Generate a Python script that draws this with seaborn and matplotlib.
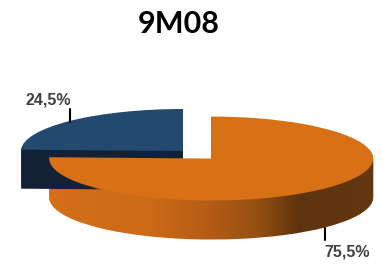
import numpy as np
import seaborn as sns
import matplotlib.pyplot as plt
from matplotlib.colors import LinearSegmentedColormap

sns.set_style("white")

# data
labels = ["24,5%", "75,5%"]
shares = [24.5, 75.5]
top_colors = ["#24496f", "#d87016"]
side_colors = ["#122135", "#8a4a14"]

# ellipse geometry in pixels
W, H = 383, 274
rx, ry = 162, 42
depth = 39
cx, cy = 183, 151


def px(x, y):
    return x / rx, (H - y) / ry


fig = plt.figure(figsize=(3.83, 2.74), dpi=100)
ax = fig.add_axes([0, 0, 1, 1])
ax.axis("off")

c0 = px(cx, cy)
explode = [0, 0.25]
grad = LinearSegmentedColormap.from_list(
    "side", [(0, "#d57019"), (0.32, "#cc6a16"), (0.5, "#b45c16"),
             (0.65, "#945012"), (0.77, "#5e340f"), (1, "#623810")])

for i in range(2):
    # side: stacked copies going down
    for k in range(depth, 0, -1):
        cols = ["none", "none"]
        cols[i] = side_colors[i]
        wedges, _ = ax.pie(shares, colors=cols, startangle=90, counterclock=True,
                           explode=explode, radius=1,
                           center=(c0[0], c0[1] - k / ry),
                           wedgeprops=dict(linewidth=0))
        if i == 1:
            w = wedges[1]
            w.set_facecolor("none")
            x0, _ = px(cx - 140, 0)
            x1, _ = px(cx + rx + 30, 0)
            im = ax.imshow(np.linspace(0, 1, 256).reshape(1, -1), cmap=grad,
                           extent=[x0, x1, 0, H / ry], aspect="auto",
                           interpolation="bilinear")
            im.set_clip_path(w)
    cols = ["none", "none"]
    cols[i] = top_colors[i]
    ax.pie(shares, colors=cols, startangle=90, counterclock=True,
           explode=explode, radius=1, center=c0,
           wedgeprops=dict(linewidth=0))

ax.set_aspect("auto")
ax.set_xlim(0, W / rx)
ax.set_ylim(0, H / ry)

# labels with leader lines
lab_font = dict(family="Liberation Sans", weight="bold", fontsize=11.5, color="#404040")
ax.text(*px(48, 100), labels[0], ha="center", va="center", **lab_font)
ax.plot(*zip(px(70, 109), px(70, 122)), color="black", lw=1.5)
ax.text(*px(347, 252), labels[1], ha="center", va="center", **lab_font)
ax.plot(*zip(px(325, 228), px(325, 240)), color="black", lw=1.5)

fig.text(179 / W, 1 - 24 / H, "9M08", ha="center", va="center",
         fontsize=22, weight="bold", family="Lato", color="black")

fig.savefig("out.png", dpi=100)
plt.close(fig)
